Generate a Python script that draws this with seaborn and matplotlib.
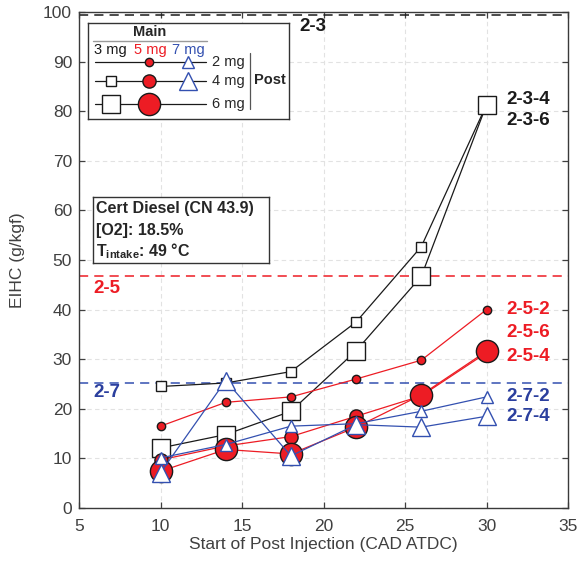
import matplotlib
matplotlib.use("Agg")
import matplotlib.pyplot as plt
import seaborn as sns

# Post-injection timing sweep (CAD ATDC)
soi = [10, 14, 18, 22, 26, 30]

# EIHC (g/kgf) for each main-post combination, label "pilot-main-post"
eihc_2_3_4 = [24.5, 25.2, 27.5, 37.5, 52.7, 81.3]
eihc_2_3_6 = [12.1, 14.8, 19.5, 31.7, 46.7, 81.3]
eihc_2_5_2 = [16.5, 21.3, 22.4, 26.0, 29.8, 40.0]
eihc_2_5_4 = [9.7, 12.5, 14.4, 18.5, 22.6, 31.3]
eihc_2_5_6 = [7.4, 11.8, 10.9, 16.3, 22.8, 31.6]
eihc_2_7_2 = [10.1, 12.8, 16.5, 17.0, 19.5, 22.4]
eihc_2_7_4 = [7.1, 25.7, 10.5, 16.8, 16.3, 18.5]

# Baselines without post injection
base_labels = ["2-3", "2-5", "2-7"]
base_values = [99.3, 46.8, 25.3]

xticks = [5, 10, 15, 20, 25, 30, 35]
yticks = [0, 10, 20, 30, 40, 50, 60, 70, 80, 90, 100]

BLACK = "#1a1a1a"
RED = "#ed1c24"
BLUE = "#3350b0"
BLUE_TXT = "#2b3f9e"
GREY = "#404040"

sns.set_style("ticks")
plt.rcParams["font.family"] = ["Liberation Sans", "DejaVu Sans"]
plt.rcParams["mathtext.fontset"] = "custom"
plt.rcParams["mathtext.rm"] = "Liberation Sans"
plt.rcParams["mathtext.bf"] = "Liberation Sans:bold"

W, H = 579, 562
fig = plt.figure(figsize=(W / 100, H / 100), dpi=100)
ax = fig.add_axes([79 / W, 1 - 508 / H, (568 - 79) / W, (508 - 12) / H])

# marker styles
sq_s = dict(marker="s", markersize=7.8, markerfacecolor="white", markeredgecolor=BLACK)
sq_l = dict(marker="s", markersize=13, markerfacecolor="white", markeredgecolor=BLACK)
ci_s = dict(marker="o", markersize=6, markerfacecolor=RED, markeredgecolor=BLACK)
ci_m = dict(marker="o", markersize=9.5, markerfacecolor=RED, markeredgecolor=BLACK)
ci_l = dict(marker="o", markersize=16, markerfacecolor=RED, markeredgecolor=BLACK)
tr_s = dict(marker="^", markersize=8, markerfacecolor="white", markeredgecolor=BLUE)
tr_l = dict(marker="^", markersize=13.5, markerfacecolor="white", markeredgecolor=BLUE)

series = [
    (eihc_2_3_4, BLACK, sq_s, 3),
    (eihc_2_3_6, BLACK, sq_l, 3),
    (eihc_2_5_2, RED, ci_s, 4),
    (eihc_2_5_4, RED, ci_m, 4),
    (eihc_2_5_6, RED, ci_l, 4),
    (eihc_2_7_2, BLUE, tr_s, 5),
    (eihc_2_7_4, BLUE, tr_l, 5),
]
for vals, col, mk, z in series:
    sns.lineplot(x=soi, y=vals, ax=ax, color=col, linewidth=0.9,
                 markeredgewidth=1.0, estimator=None, sort=False,
                 zorder=z, **mk)

# baseline reference lines
base_colors = [BLACK, RED, BLUE]
for v, c in zip(base_values, base_colors):
    ax.axhline(v, color=c, linestyle=(0, (6, 4)), linewidth=1.1, zorder=2)

LBL = 13.5
ax.text(18.5, 97.1, base_labels[0], color=BLACK, fontsize=LBL,
        fontweight="bold", va="center", ha="left")
ax.text(5.9, 44.2, base_labels[1], color=RED, fontsize=LBL,
        fontweight="bold", va="center", ha="left")
ax.text(5.9, 23.2, base_labels[2], color=BLUE_TXT, fontsize=LBL,
        fontweight="bold", va="center", ha="left")

# end-of-line series labels
end_labels = [("2-3-4", 82.3, BLACK), ("2-3-6", 78.1, BLACK),
              ("2-5-2", 40.0, RED), ("2-5-6", 35.3, RED), ("2-5-4", 30.6, RED),
              ("2-7-2", 22.5, BLUE_TXT), ("2-7-4", 18.5, BLUE_TXT)]
for txt, yv, c in end_labels:
    ax.text(31.2, yv, txt, color=c, fontsize=LBL, fontweight="bold",
            va="center", ha="left", clip_on=False)

ax.set_xlim(5, 35)
ax.set_ylim(0, 100)
ax.set_xticks(xticks)
ax.set_yticks(yticks)
ax.grid(True, color="#e2e2e2", linestyle=(0, (4, 3)), linewidth=0.8, zorder=0)
ax.set_axisbelow(True)
ax.tick_params(direction="in", top=True, right=True, length=4, width=0.9,
               labelsize=12.5, colors=GREY)
ax.tick_params(axis="x", pad=8)
ax.tick_params(axis="y", pad=5)
for sp in ax.spines.values():
    sp.set_visible(True)
    sp.set_color("#3a3a3a")
    sp.set_linewidth(1.0)
ax.set_xlabel("Start of Post Injection (CAD ATDC)", fontsize=12.5, color=GREY, labelpad=2)
ax.set_ylabel("EIHC (g/kgf)", fontsize=12.5, color=GREY, labelpad=13)

# condition box
cond = fig.add_axes([93 / W, 1 - 263 / H, (269 - 93) / W, (263 - 197) / H])
cond.set_xlim(93, 269)
cond.set_ylim(263, 197)
cond.set_xticks([])
cond.set_yticks([])
for sp in cond.spines.values():
    sp.set_color("#333333")
    sp.set_linewidth(1.0)
cond.text(96, 209, "Cert Diesel (CN 43.9)", fontsize=11.5, fontweight="bold",
          va="center", ha="left")
cond.text(96, 230, "[O2]: 18.5%", fontsize=11.5, fontweight="bold",
          va="center", ha="left")
cond.text(96, 251, r"$\mathbf{T}_{\mathbf{intake}}$: 49 °C", fontsize=11.5,
          fontweight="bold", va="center", ha="left")

# tabular legend: main quantity across, post quantity down
leg = fig.add_axes([88 / W, 1 - 119 / H, (289 - 88) / W, (119 - 23) / H])
leg.set_xlim(88, 289)
leg.set_ylim(119, 23)
leg.set_xticks([])
leg.set_yticks([])
for sp in leg.spines.values():
    sp.set_color("#333333")
    sp.set_linewidth(1.0)
leg.text(150, 32, "Main", fontsize=10.5, fontweight="bold", ha="center", va="center")
leg.plot([93, 207], [40.7, 40.7], color="#9a9a9a", linewidth=1.0)
main_cols = [("3 mg", 110, BLACK), ("5 mg", 150, RED), ("7 mg", 188.5, BLUE)]
for t, xc, c in main_cols:
    leg.text(xc, 50, t, fontsize=10.5, color=c, ha="center", va="center")
rows = [("2 mg", 61.7, None, ci_s, tr_s),
        ("4 mg", 81, sq_s, ci_m, tr_l),
        ("6 mg", 104, sq_l, ci_l, None)]
for t, yr, sq, ci, tr in rows:
    leg.plot([95, 206], [yr, yr], color=BLACK, linewidth=0.9)
    for xm, mk in [(110.7, sq), (149.3, ci), (188.3, tr)]:
        if mk is not None:
            leg.plot([xm], [yr], linestyle="none", markeredgewidth=1.0, **mk)
    leg.text(212.5, yr, t, fontsize=10.5, ha="left", va="center")
leg.plot([250, 250], [53, 109], color="#555555", linewidth=0.9)
leg.text(254, 80, "Post", fontsize=10.5, fontweight="bold", ha="left", va="center")

fig.savefig("out.png", dpi=100)
